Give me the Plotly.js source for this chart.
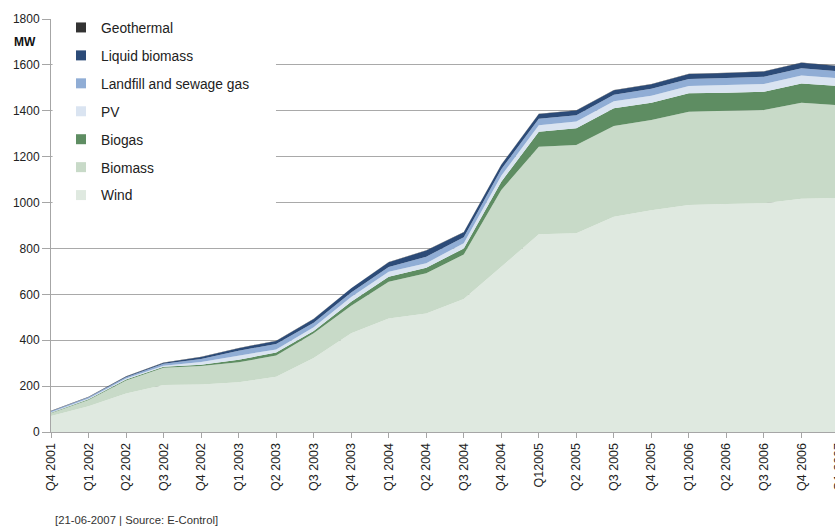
<!DOCTYPE html>
<html>
<head>
<meta charset="utf-8">
<script src="https://cdn.plot.ly/plotly-3.0.1.min.js"></script>
<style>
html,body{margin:0;padding:0;overflow:hidden;background:#fff;}
#chart{width:860px;height:530px;}
</style>
</head>
<body>
<div id="chart"></div>
<script>
// Quarter categories (x axis)
const quarters = ['Q4 2001','Q1 2002','Q2 2002','Q3 2002','Q4 2002','Q1 2003','Q2 2003','Q3 2003','Q4 2003','Q1 2004','Q2 2004','Q3 2004','Q4 2004','Q12005','Q2 2005','Q3 2005','Q4 2005','Q1 2006','Q2 2006','Q3 2006','Q4 2006','Q1 2007'];

// Installed capacity in MW, per technology (stacked)
const wind       = [70,112,168,205,207,217,241,322,430,495,517,580,720,862,866,938,967,989,994,997,1017,1020];
const biomass    = [12,28,57,75,81,87,92,108,120,160,175,194,335,381,385,396,393,407,406,406,418,404];
const biogas     = [2,3,4,4,5,11,13,10,18,22,24,26,36,66,73,77,75,80,79,80,84,84];
const pv         = [2,3,4,5,12,19,14,17,20,21,20,23,26,28,29,30,31,32,33,34,35,33];
const landfill   = [4,5,6,8,13,20,24,19,20,21,28,26,28,28,28,29,30,31,31,31,31,31];
const liquidBio  = [2,2,3,5,9,11,13,17,18,21,27,22,20,21,20,20,20,21,22,23,24,23];
const geothermal = [1,1,1,1,1,1,1,1,1,1,1,1,1,1,1,1,1,1,1,1,1,1];

const yTicks = [0,200,400,600,800,1000,1200,1400,1600,1800];
const gridTicks = [200,400,600,800,1000,1200,1400,1600];

const series = [
  {name:'Wind', y:wind, color:'#DFE9E0'},
  {name:'Biomass', y:biomass, color:'#C8DAC8'},
  {name:'Biogas', y:biogas, color:'#5E8D62'},
  {name:'PV', y:pv, color:'#DAE4F1'},
  {name:'Landfill and sewage gas', y:landfill, color:'#90ADD5'},
  {name:'Liquid biomass', y:liquidBio, color:'#2C4B78'},
  {name:'Geothermal', y:geothermal, color:'#333333'}
];

const traces = series.map(s => ({
  type:'scatter', x:quarters, y:s.y, name:s.name,
  stackgroup:'one', mode:'lines', line:{width:0, color:s.color},
  fillcolor:s.color, showlegend:false, hoverinfo:'x+y+name'
}));

// legend entries (square swatches), top entry first
const legendOrder = series.slice().reverse();
legendOrder.forEach(s => {
  traces.push({
    type:'scatter', x:[null], y:[null], name:s.name, mode:'markers',
    marker:{symbol:'square', size:10, color:s.color},
    legendgroup:s.name, showlegend:true, hoverinfo:'skip'
  });
});

// invisible trace on the overlay axis that carries the gridlines
traces.push({type:'scatter', x:[quarters[0]], y:[null], yaxis:'y2', showlegend:false, hoverinfo:'skip', mode:'none'});

const axisGray = '#A6A6A6';
const layout = {
  width:860, height:530,
  margin:{l:51, r:21, t:19, b:98, pad:0},
  paper_bgcolor:'#fff', plot_bgcolor:'#fff',
  font:{family:'Liberation Sans, Arial, sans-serif', size:12, color:'#222'},
  showlegend:true,
  legend:{
    x:0.0127, y:1.017, xanchor:'left', yanchor:'top',
    bgcolor:'#ffffff', borderwidth:0,
    font:{size:13.8, color:'#222'},
    traceorder:'grouped', tracegroupgap:7,
    itemwidth:30
  },
  xaxis:{
    type:'category', range:[0,21], showgrid:false,
    showline:true, linecolor:axisGray, linewidth:1,
    ticks:'outside', ticklen:5, tickcolor:axisGray,
    tickangle:-90, tickfont:{size:12.5, color:'#222'},
    zeroline:false, fixedrange:true
  },
  yaxis:{
    range:[0,1800], tickvals:yTicks, showgrid:false,
    showline:true, linecolor:axisGray, linewidth:1,
    ticks:'outside', ticklen:8, tickcolor:axisGray,
    tickfont:{size:12, color:'#222'}, zeroline:false, fixedrange:true
  },
  yaxis2:{
    overlaying:'y', range:[0,1800], tickvals:gridTicks,
    showgrid:true, gridcolor:'#A9A9A9', gridwidth:1,
    showticklabels:false, ticks:'', showline:false, zeroline:false, fixedrange:true
  },
  // white backing of the legend area (hides gridlines behind the legend box)
  shapes:[
    {type:'rect', xref:'paper', yref:'paper', x0:0.002, x1:0.2855, y0:0.5, y1:1,
     fillcolor:'#ffffff', line:{width:0}, layer:'above'}
  ],
  annotations:[
    {text:'<b>MW</b>', xref:'paper', yref:'paper', x:-0.05, y:0.944, xanchor:'left', yanchor:'middle', showarrow:false, font:{size:12, color:'#111'}},
    {text:'[21-06-2007 | Source: E-Control]', xref:'paper', yref:'paper', x:0.003, y:-0.213, xanchor:'left', yanchor:'middle', showarrow:false, font:{size:11.3, color:'#333'}}
  ]
};

Plotly.newPlot('chart', traces, layout, {staticPlot:true, displayModeBar:false});
</script>
</body>
</html>
